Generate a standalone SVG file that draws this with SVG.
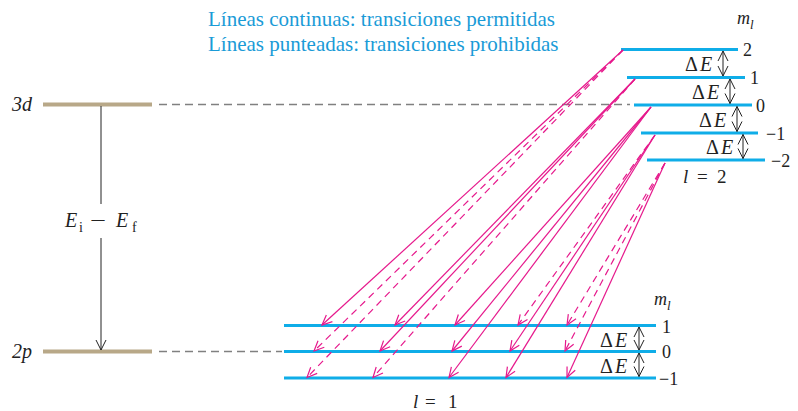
<svg xmlns="http://www.w3.org/2000/svg" width="798" height="411" viewBox="0 0 798 411">
<defs>
<marker id="ah" markerUnits="userSpaceOnUse" markerWidth="14" markerHeight="12" viewBox="0 0 14 12" refX="11" refY="6" orient="auto">
<path d="M1,1.5 L11,6 L1,10.5" fill="none" stroke="#e6198c" stroke-width="1.2"/>
</marker>
<marker id="kh" markerUnits="userSpaceOnUse" markerWidth="14" markerHeight="12" viewBox="0 0 14 12" refX="11" refY="6" orient="auto-start-reverse">
<path d="M1,1 L11,6 L1,11" fill="none" stroke="#222" stroke-width="1"/>
</marker>
</defs>
<style>
.t{font-family:"Liberation Serif","Times New Roman",serif;fill:#222}
.i{font-style:italic}
.title{font-family:"Liberation Serif","Times New Roman",serif;fill:#1a9bd7;font-size:21px}
.blue{stroke:#0fade8;stroke-width:3;fill:none}
.tan{stroke:#b8a888;stroke-width:4;fill:none}
.gd{stroke:#808080;stroke-width:1.5;stroke-dasharray:8 5;fill:none}
.al{stroke:#e6198c;stroke-width:1.2;fill:none;marker-end:url(#ah)}
.da{stroke-dasharray:7 5}
.dbl{stroke:#222;stroke-width:1;fill:none;marker-start:url(#kh);marker-end:url(#kh)}
</style>

<g id="legend">
<text class="title" x="208" y="26">Líneas continuas: transiciones permitidas</text>
<text class="title" x="208" y="51">Líneas punteadas: transiciones prohibidas</text>
</g>

<g id="level-3d">
<line class="tan" x1="43" y1="104.5" x2="152" y2="104.5"/>
<line class="gd" x1="159" y1="104.5" x2="630" y2="104.5"/>
<text class="t i" x="12" y="111" font-size="20">3d</text>
</g>
<g id="level-2p">
<line class="tan" x1="43" y1="351.5" x2="152" y2="351.5"/>
<line class="gd" x1="159" y1="351.5" x2="282" y2="351.5"/>
<text class="t i" x="12" y="358" font-size="20">2p</text>
</g>
<g id="energy-arrow">
<line x1="101" y1="106" x2="101" y2="204" stroke="#222" stroke-width="1"/>
<line x1="101" y1="238" x2="101" y2="350" stroke="#222" stroke-width="1" marker-end="url(#kh)"/>
<text class="t i" x="65" y="227" font-size="20">E</text>
<text class="t" x="79" y="232" font-size="14">i</text>
<text class="t" x="90" y="227" font-size="20" textLength="16" lengthAdjust="spacingAndGlyphs">−</text>
<text class="t i" x="116" y="227" font-size="20">E</text>
<text class="t" x="132" y="232" font-size="14">f</text>
</g>

<g id="upper-levels">
<line class="blue" x1="621" y1="49.5" x2="738" y2="49.5"/>
<line class="blue" x1="627" y1="77.5" x2="745" y2="77.5"/>
<line class="blue" x1="634" y1="105" x2="752" y2="105"/>
<line class="blue" x1="641" y1="133" x2="758" y2="133"/>
<line class="blue" x1="647" y1="160" x2="765" y2="160"/>
<text class="t" x="743" y="56" font-size="18">2</text>
<text class="t" x="750" y="84" font-size="18">1</text>
<text class="t" x="756" y="112" font-size="18">0</text>
<text class="t" x="766" y="140" font-size="18">−1</text>
<text class="t" x="771" y="167" font-size="18">−2</text>
<text class="t" x="737" y="24" font-size="18"><tspan class="i">m</tspan><tspan class="i" font-size="13" dy="5">l</tspan></text>
<text class="t" x="683" y="183" font-size="19"><tspan class="i">l</tspan><tspan x="697">=</tspan><tspan x="717">2</tspan></text>
<text class="t" x="685" y="71" font-size="20">Δ<tspan class="i" dx="2">E</tspan></text>
<text class="t" x="692" y="99" font-size="20">Δ<tspan class="i" dx="2">E</tspan></text>
<text class="t" x="699" y="127" font-size="20">Δ<tspan class="i" dx="2">E</tspan></text>
<text class="t" x="706" y="154" font-size="20">Δ<tspan class="i" dx="2">E</tspan></text>
<line class="dbl" x1="723" y1="51" x2="723" y2="76"/>
<line class="dbl" x1="730" y1="79" x2="730" y2="103.5"/>
<line class="dbl" x1="737" y1="106.5" x2="737" y2="131.5"/>
<line class="dbl" x1="743" y1="134.5" x2="743" y2="158.5"/>
</g>

<g id="lower-levels">
<line class="blue" x1="284" y1="325.5" x2="656" y2="325.5"/>
<line class="blue" x1="284" y1="351.5" x2="656" y2="351.5"/>
<line class="blue" x1="284" y1="378" x2="656" y2="378"/>
<text class="t" x="662" y="333" font-size="18">1</text>
<text class="t" x="662" y="358" font-size="18">0</text>
<text class="t" x="659" y="385" font-size="18">−1</text>
<text class="t" x="654" y="305" font-size="18"><tspan class="i">m</tspan><tspan class="i" font-size="13" dy="5">l</tspan></text>
<text class="t" x="413" y="408" font-size="19"><tspan class="i">l</tspan><tspan x="425">=</tspan><tspan x="448">1</tspan></text>
<text class="t" x="600" y="347" font-size="20">Δ<tspan class="i" dx="2">E</tspan></text>
<text class="t" x="600" y="373" font-size="20">Δ<tspan class="i" dx="2">E</tspan></text>
<line class="dbl" x1="639" y1="327" x2="639" y2="350"/>
<line class="dbl" x1="639" y1="353" x2="639" y2="376.5"/>
</g>

<g id="transitions">
<line class="al" x1="623" y1="50" x2="322" y2="325"/>
<line class="al da" x1="623" y1="50" x2="314" y2="351"/>
<line class="al da" x1="623" y1="50" x2="307" y2="377.5"/>
<line class="al" x1="635" y1="79" x2="395" y2="325"/>
<line class="al" x1="635" y1="79" x2="380" y2="351"/>
<line class="al da" x1="635" y1="79" x2="373" y2="377.5"/>
<line class="al" x1="651" y1="107" x2="455" y2="325"/>
<line class="al" x1="651" y1="107" x2="452" y2="351"/>
<line class="al" x1="651" y1="107" x2="449" y2="377.5"/>
<line class="al da" x1="655" y1="135" x2="518" y2="325"/>
<line class="al" x1="655" y1="135" x2="510" y2="351"/>
<line class="al" x1="655" y1="135" x2="506" y2="377.5"/>
<line class="al da" x1="665" y1="163" x2="567" y2="325"/>
<line class="al da" x1="665" y1="163" x2="565" y2="351"/>
<line class="al" x1="665" y1="163" x2="567" y2="377.5"/>
</g>
</svg>
